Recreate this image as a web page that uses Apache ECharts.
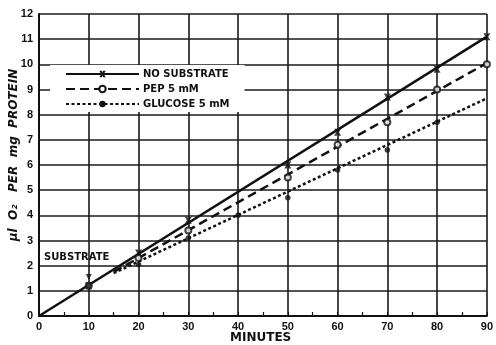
<!DOCTYPE html>
<html>
<head>
<meta charset="utf-8">
<script src="https://cdn.jsdelivr.net/npm/echarts@6/dist/echarts.min.js"></script>
<style>
html,body{margin:0;padding:0;background:#fff;}
#main{width:496px;height:345px;}
</style>
</head>
<body>
<div id="main"></div>
<script>
// readings (minutes, ul O2 per mg protein)
var noSubPts=[[10,1.2],[20,2.5],[30,3.8],[50,6.0],[60,7.3],[70,8.7],[80,9.8],[90,11.1]];
var pepPts=[[10,1.2],[20,2.3],[30,3.4],[50,5.5],[60,6.8],[70,7.7],[80,9.0],[90,10.0]];
var gluPts=[[10,1.2],[20,2.05],[30,3.1],[40,4.0],[50,4.7],[60,5.8],[70,6.6],[80,7.7]];
// fitted lines (end points)
var noSubLine=[[0,0],[90,11.1]];
var pepLine=[[15,1.75],[90,10.05]];
var gluLine=[[15,1.7],[90,8.65]];
var arrowAt=[[10,1.55]];
var names=['NO SUBSTRATE','PEP 5 mM','GLUCOSE 5 mM'];

var ink='#111';
var xMark='path://M0,0L4,0L5,3L6,0L10,0L7,5L10,10L6,10L5,7L4,10L0,10L3,5Z';
var lblFont={color:ink,fontFamily:'Liberation Sans',fontWeight:'bold',fontSize:11};

function fitLine(name,data,type,sym){
    return {
        name:name,type:'line',data:data,symbol:sym,showSymbol:false,
        lineStyle:{color:ink,width:2.5,type:type},itemStyle:{color:ink},
        silent:true,z:3
    }
}
function pts(data,sym,size){
    return {
        type:'scatter',data:data,symbol:sym,symbolSize:size,
        itemStyle:{color:ink,borderWidth:sym=='emptyCircle'?1.4:0},z:4
    }
}

var myChart=echarts.init(document.getElementById('main'));
var option={
    backgroundColor:'#fff',
    animation:false,
    grid:{left:39,right:1,top:14,bottom:29},
    legend:{
        data:names,orient:'vertical',left:50,top:65,
        padding:[4,15,3,15],backgroundColor:'#fff',
        itemWidth:73,itemHeight:8,itemGap:5,
        textStyle:{color:ink,fontFamily:'DejaVu Sans',fontWeight:'bold',fontSize:10,lineHeight:10,padding:[0,0,0,-1]},
        z:10
    },
    xAxis:{
        type:'value',min:0,max:90,interval:10,
        axisLine:{lineStyle:{color:ink,width:2}},
        axisTick:{show:true,inside:true,length:4,lineStyle:{color:ink}},
        minorTick:{show:true,splitNumber:2,length:4,lineStyle:{color:ink,width:1.2}},
        axisLabel:Object.assign({margin:5},lblFont),
        splitLine:{lineStyle:{color:'#1a1a1a',width:1.6}}
    },
    yAxis:{
        type:'value',min:0,max:12,interval:1,
        axisLine:{show:true,lineStyle:{color:ink,width:2}},
        axisTick:{show:false},
        axisLabel:Object.assign({margin:6},lblFont),
        splitLine:{lineStyle:{color:'#1a1a1a',width:1.6}}
    },
    graphic:[
        {type:'text',left:230,top:332,style:{text:'MINUTES',font:'bold 12px "DejaVu Sans"',fill:ink}},
        {type:'text',x:14,y:155,rotation:Math.PI/2,
         style:{text:'\u03bcl  O\u2082   PER  mg  PROTEIN',font:'italic bold 12px "DejaVu Sans"',fill:ink,align:'center',verticalAlign:'middle'}},
        {type:'text',left:44,top:252,style:{text:'SUBSTRATE',font:'bold 10px "DejaVu Sans"',fill:ink}}
    ],
    series:[
        fitLine(names[0],noSubLine,'solid',xMark),
        fitLine(names[1],pepLine,[9,5],'emptyCircle'),
        fitLine(names[2],gluLine,[3,2.5],'circle'),
        pts(noSubPts,xMark,7),
        pts(pepPts,'emptyCircle',6),
        pts(gluPts,'circle',5.5),
        {type:'scatter',data:arrowAt,symbol:'triangle',symbolRotate:180,symbolSize:6,itemStyle:{color:ink},z:4}
    ]
};
myChart.setOption(option);
</script>
</body>
</html>
